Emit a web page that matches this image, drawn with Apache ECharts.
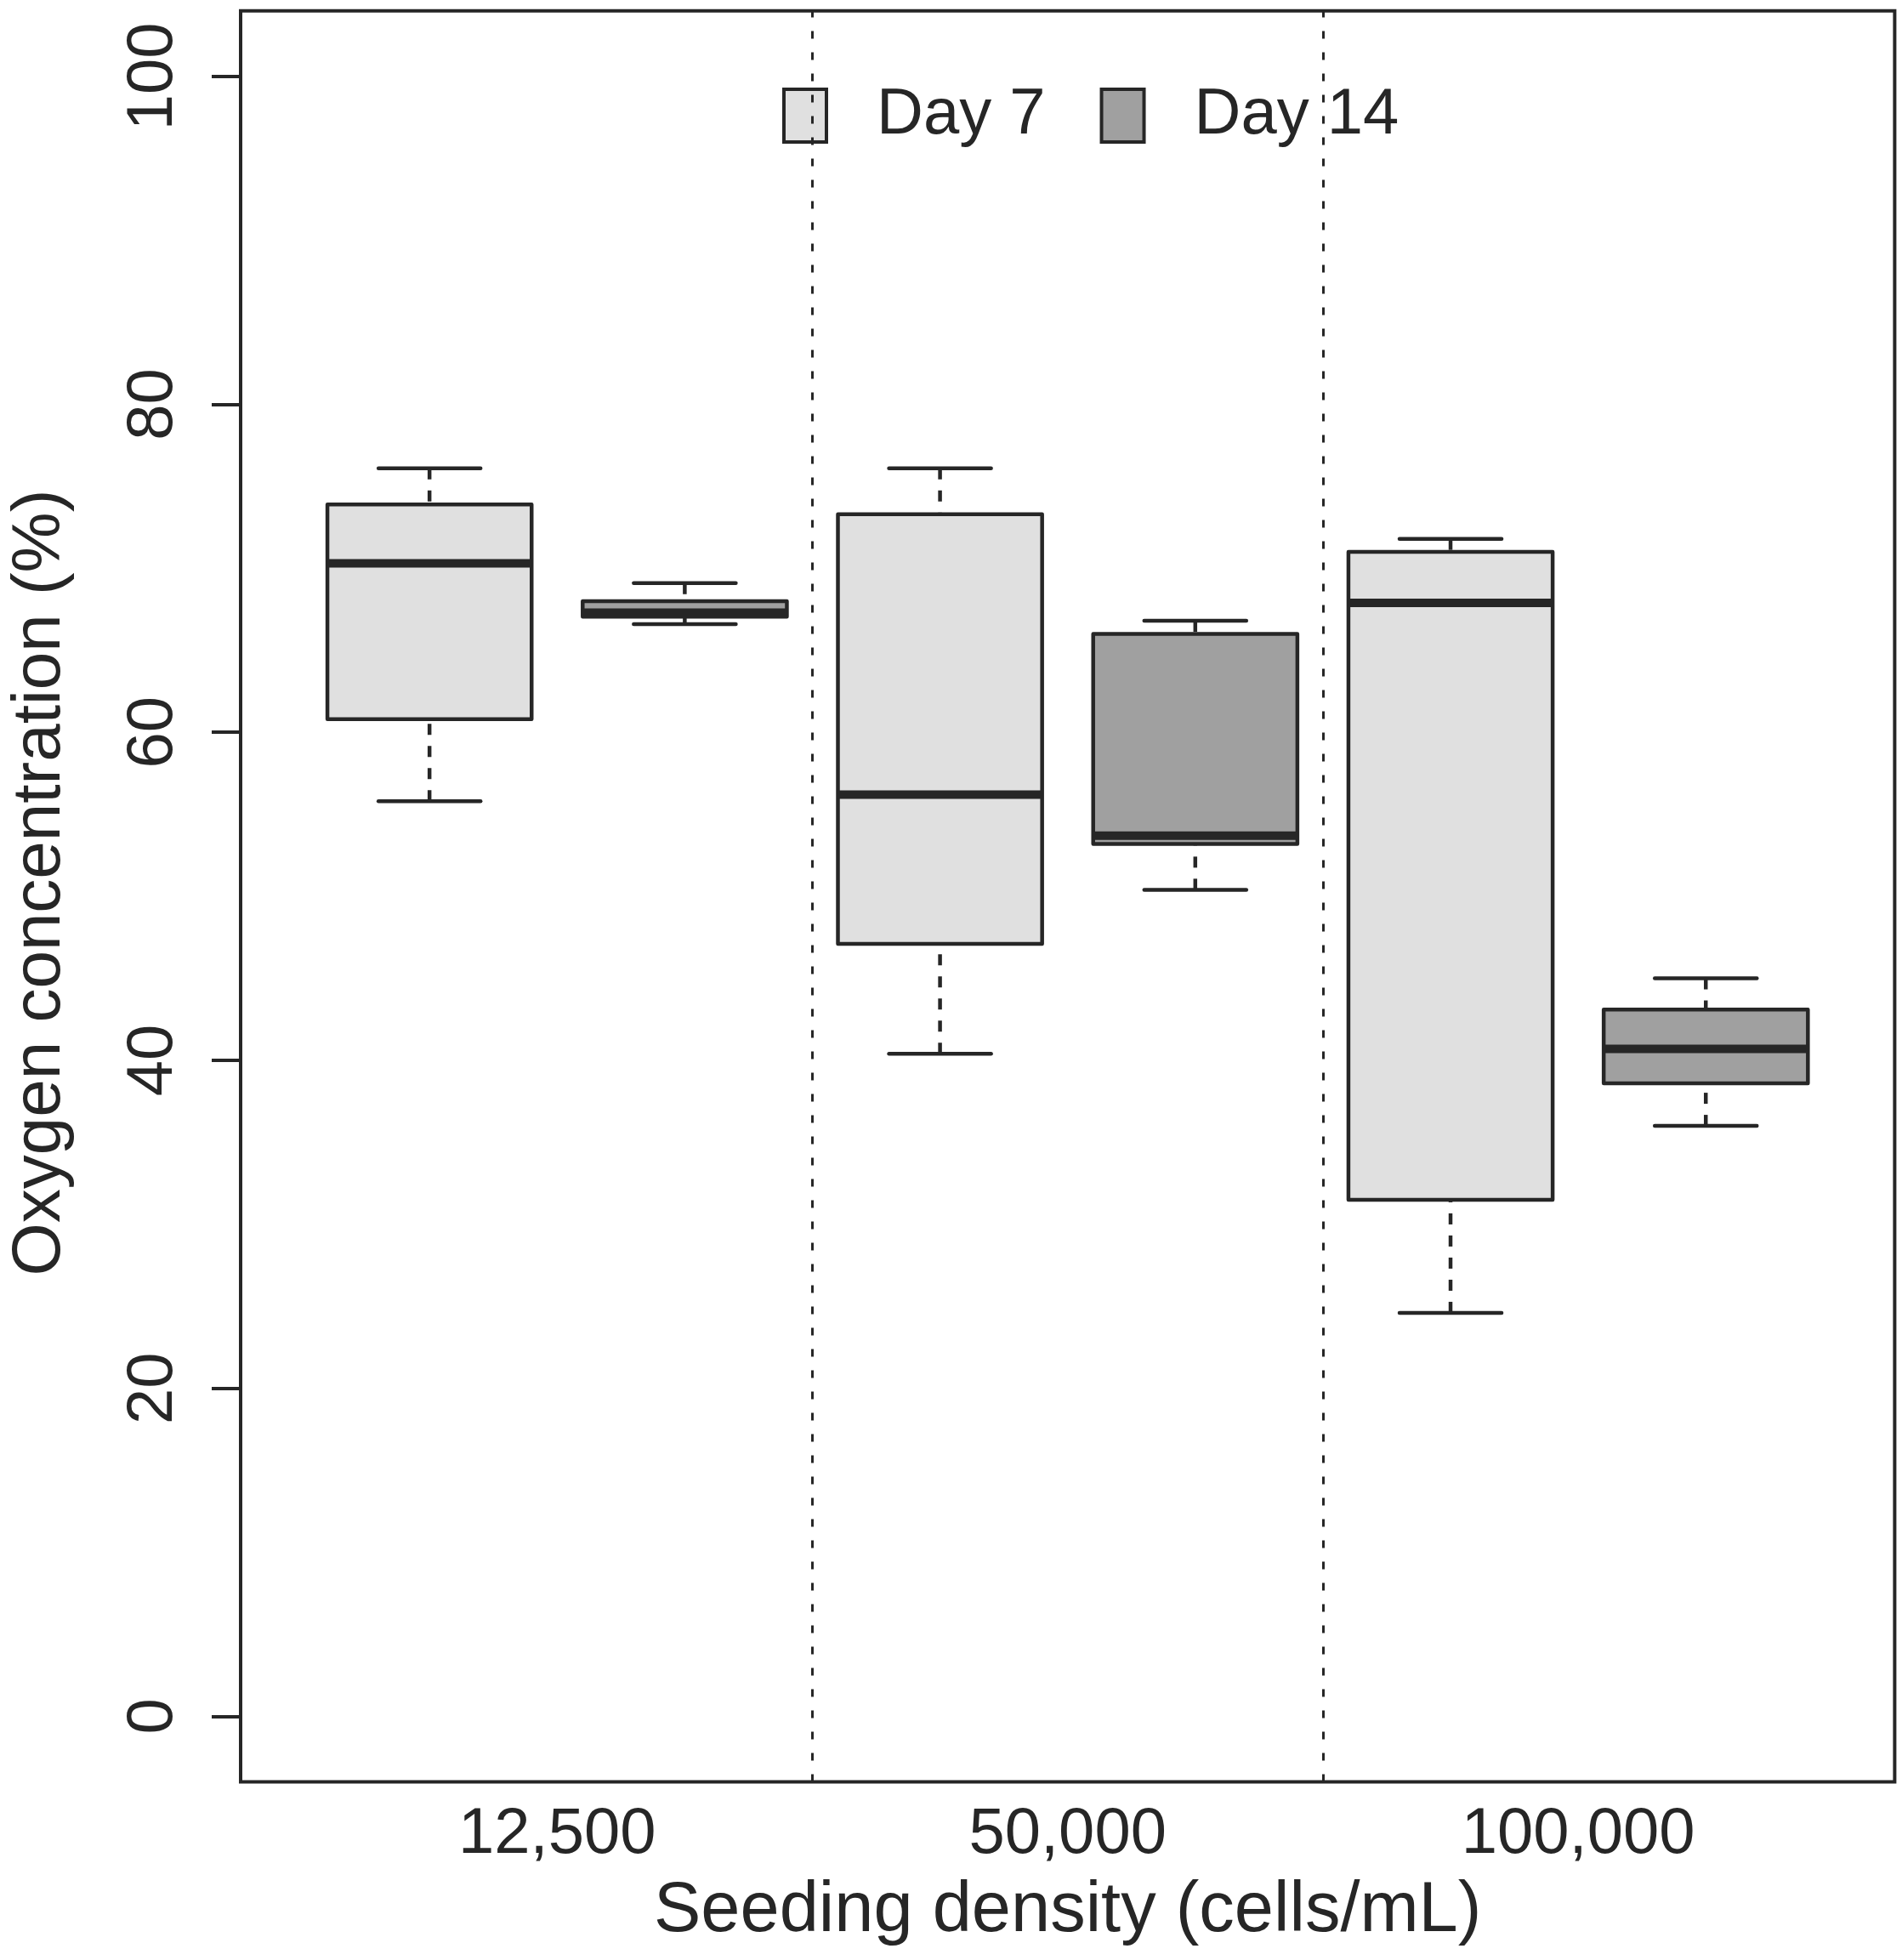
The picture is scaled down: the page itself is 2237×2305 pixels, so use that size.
<!DOCTYPE html>
<html>
<head>
<meta charset="utf-8">
<title>Oxygen concentration</title>
<script src="https://cdn.jsdelivr.net/npm/echarts@6/dist/echarts.min.js"></script>
<style>
  html, body { margin: 0; padding: 0; background: #fff; }
  #chart { width: 2237px; height: 2305px; }
</style>
</head>
<body>
<div id="chart"></div>
<script>
// seeding densities (x groups)
const categories = ['12,500', '50,000', '100,000'];
// box stats per group: [lower whisker, Q1, median, Q3, upper whisker]
const day7 = [
  [55.8, 60.8, 70.3, 73.9, 76.1],
  [40.4, 47.1, 56.2, 73.3, 76.1],
  [24.6, 31.5, 67.9, 71.0, 71.8]
];
const day14 = [
  [66.6, 67.05, 67.3, 68.0, 69.1],
  [50.4, 53.2, 53.7, 66.0, 66.8],
  [36.0, 38.6, 40.7, 43.1, 45.0]
];
const yTicks = [0, 20, 40, 60, 80, 100];
const labelAt = [1.5, 3.5, 5.5];
const separators = [2.5, 4.5];

const ink = '#262626';
const font = 'Liberation Sans, Arial, sans-serif';

// box positions: day 7 at 1,3,5 and day 14 at 2,4,6
const toData = (rows, offset) => rows.map((r, i) => [2 * i + offset].concat(r));

function renderBox(fill) {
  return function (params, api) {
    const x = api.value(0);
    const lo = api.value(1), q1 = api.value(2), med = api.value(3), q3 = api.value(4), hi = api.value(5);
    const half = 0.4, cap = 0.2;
    const a = api.coord([x - half, q3]);
    const b = api.coord([x + half, q1]);
    const seg = (x1, y1, x2, y2, style) => {
      const p = api.coord([x1, y1]), q = api.coord([x2, y2]);
      return { type: 'line', shape: { x1: p[0], y1: p[1], x2: q[0], y2: q[1] }, style: style };
    };
    const dashed = { stroke: ink, lineWidth: 4.5, lineDash: [13, 13], lineCap: 'butt' };
    const solid = { stroke: ink, lineWidth: 4.5, lineCap: 'round' };
    return {
      type: 'group',
      children: [
        seg(x, hi, x, q3, dashed),
        seg(x, lo, x, q1, dashed),
        seg(x - cap, hi, x + cap, hi, solid),
        seg(x - cap, lo, x + cap, lo, solid),
        {
          type: 'rect',
          shape: { x: a[0], y: a[1], width: b[0] - a[0], height: b[1] - a[1] },
          style: { fill: fill, stroke: ink, lineWidth: 4.5, lineJoin: 'round' }
        },
        seg(x - half, med, x + half, med, { stroke: ink, lineWidth: 10, lineCap: 'butt' })
      ]
    };
  };
}

const chart = echarts.init(document.getElementById('chart'));
chart.setOption({
  backgroundColor: '#fff',
  animation: false,
  grid: {
    left: 274.7, right: 8.6, top: 12.7, bottom: 209.5,
    show: true, borderColor: ink, borderWidth: 4, backgroundColor: 'transparent'
  },
  legend: {
    left: 920, top: 98,
    orient: 'horizontal',
    icon: 'rect',
    itemWidth: 50, itemHeight: 62, itemGap: 64,
    padding: 0,
    textStyle: { fontFamily: font, fontSize: 76, color: ink, padding: [0, 0, 0, 54] },
    data: [
      { name: 'Day 7', itemStyle: { color: '#e0e0e0', borderColor: ink, borderWidth: 4 } },
      { name: 'Day 14', itemStyle: { color: '#a0a0a0', borderColor: ink, borderWidth: 4 } }
    ]
  },
  xAxis: {
    type: 'value',
    min: 0.26, max: 6.74,
    name: 'Seeding density (cells/mL)',
    nameLocation: 'middle',
    nameGap: 111,
    nameTextStyle: { fontFamily: font, fontSize: 83, color: ink },
    axisLine: { show: false },
    axisTick: { show: false },
    splitLine: { show: false },
    axisLabel: {
      customValues: labelAt,
      margin: 25,
      fontFamily: font, fontSize: 76, color: ink,
      formatter: v => categories[labelAt.indexOf(v)] || ''
    }
  },
  yAxis: {
    type: 'value',
    min: -4, max: 104,
    name: 'Oxygen concentration (%)',
    nameLocation: 'middle',
    nameRotate: 90,
    nameGap: 195,
    nameTextStyle: { fontFamily: font, fontSize: 80, color: ink, padding: [0, 0, 0, 32] },
    axisLine: { show: false },
    splitLine: { show: false },
    axisTick: {
      show: true, customValues: yTicks, length: 34,
      lineStyle: { color: ink, width: 4 }
    },
    axisLabel: {
      customValues: yTicks,
      rotate: 90,
      margin: 64,
      fontFamily: font, fontSize: 76, color: ink
    }
  },
  series: [
    {
      name: 'Day 7',
      type: 'custom',
      renderItem: renderBox('#e0e0e0'),
      itemStyle: { color: '#e0e0e0' },
      encode: { x: 0, y: [1, 2, 3, 4, 5] },
      data: toData(day7, 1),
      markLine: {
        silent: true,
        symbol: 'none',
        label: { show: false },
        lineStyle: { color: ink, width: 3, type: [9, 16] },
        data: separators.map(v => ({ xAxis: v }))
      },
      z: 2
    },
    {
      name: 'Day 14',
      type: 'custom',
      renderItem: renderBox('#a0a0a0'),
      itemStyle: { color: '#a0a0a0' },
      encode: { x: 0, y: [1, 2, 3, 4, 5] },
      data: toData(day14, 2),
      z: 2
    }
  ]
});
</script>
</body>
</html>
